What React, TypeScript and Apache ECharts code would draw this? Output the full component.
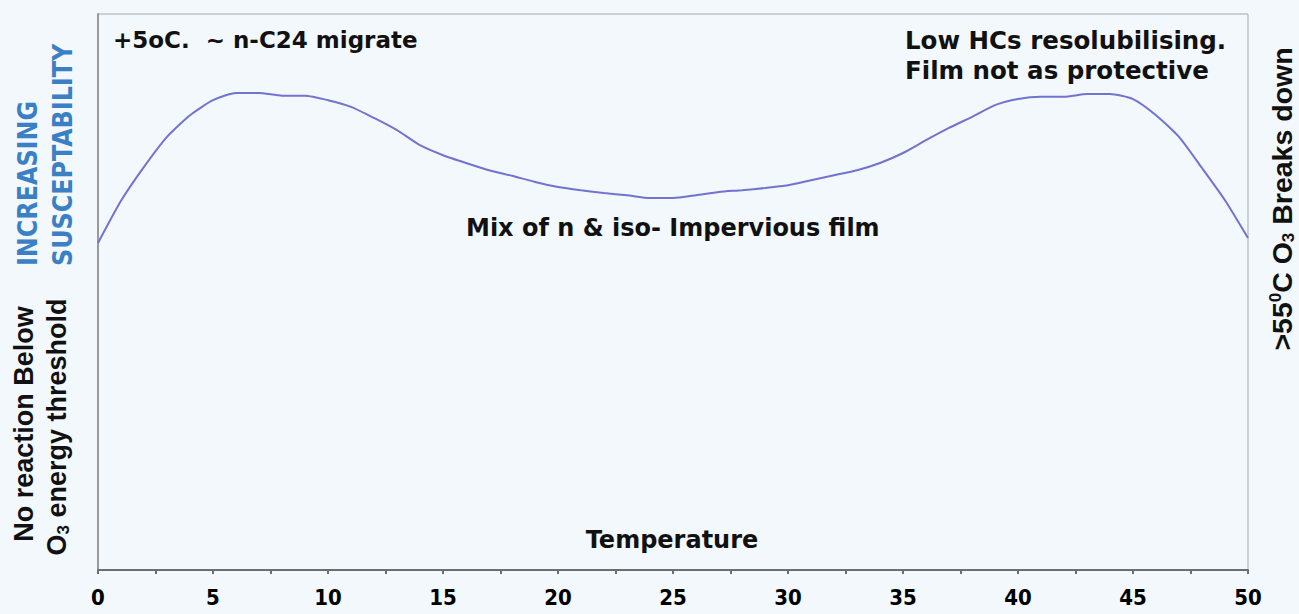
import React, { useEffect, useRef } from "react";
import * as echarts from "echarts";

const temperature = [
  0, 1, 2, 3, 4, 5, 6, 7, 8, 9, 10, 11, 12, 13, 14, 15, 16, 17, 18, 19, 20, 21, 22, 23, 24, 25,
  26, 27, 28, 29, 30, 31, 32, 33, 34, 35, 36, 37, 38, 39, 40, 41, 42, 43, 44, 45, 46, 47, 48, 49, 50,
];
const susceptibility = [
  58.8, 66.4, 72.5, 77.9, 81.8, 84.5, 85.8, 85.8, 85.3, 85.3, 84.5, 83.3, 81.3, 79.1, 76.4, 74.6,
  73.2, 71.9, 70.9, 69.8, 68.9, 68.3, 67.8, 67.4, 66.9, 66.9, 67.4, 68.0, 68.3, 68.7, 69.2, 70.1,
  71.0, 71.9, 73.2, 75.0, 77.3, 79.5, 81.5, 83.6, 84.7, 85.1, 85.1, 85.6, 85.6, 84.7, 81.8, 77.9,
  72.3, 66.5, 59.7,
];
const xTickLabels = ["0", "5", "10", "15", "20", "25", "30", "35", "40", "45", "50"];

const VERDANA = "'DejaVu Sans', Verdana, sans-serif";
const NARROW = "'Liberation Sans Narrow', 'DejaVu Sans Condensed', 'Arial Narrow', sans-serif";
const ARIAL = "'Liberation Sans', Arial, sans-serif";

export default function App() {
  const ref = useRef<HTMLDivElement>(null);

  useEffect(() => {
    document.body.style.margin = "0";
    const chart = echarts.init(ref.current!, undefined, { renderer: "svg" });
    const data = temperature.map((t, i) => [t, susceptibility[i]]);

    const plotText = (text: string, x: number, y: number, align = "left", size = 24) => ({
      type: "text",
      x,
      y,
      style: {
        text,
        align,
        verticalAlign: "middle",
        fontFamily: VERDANA,
        fontWeight: "bold",
        fontSize: size,
        fill: "#111",
      },
    });

    const richFor = (size: number) => ({
      a: { fontFamily: ARIAL, fontWeight: "bold", fontSize: size, lineHeight: 30, fill: "#111" },
      s: {
        fontFamily: ARIAL,
        fontWeight: "bold",
        fontSize: 17,
        lineHeight: 14,
        verticalAlign: "bottom",
        fill: "#111",
      },
      u: {
        fontFamily: ARIAL,
        fontWeight: "bold",
        fontSize: 17,
        lineHeight: 14,
        verticalAlign: "top",
        fill: "#111",
      },
    });

    const blueText = (text: string, x: number) => ({
      type: "text",
      x,
      y: 266,
      rotation: Math.PI / 2,
      style: {
        text,
        align: "left",
        verticalAlign: "middle",
        fontFamily: NARROW,
        fontWeight: "bold",
        fontSize: 26.5,
        fill: "#3b7fc4",
      },
    });

    chart.setOption({
      animation: false,
      backgroundColor: "#f3f8fc",
      grid: {
        left: 98,
        right: 51,
        top: 14,
        bottom: 44,
        show: true,
        borderColor: "#a8a8a8",
        borderWidth: 1,
        backgroundColor: "transparent",
      },
      xAxis: {
        type: "value",
        min: 0,
        max: 50,
        interval: 5,
        axisLine: { show: true, lineStyle: { color: "#6e6e6e", width: 2 } },
        axisTick: { show: true, length: 4, lineStyle: { color: "#6e6e6e", width: 2 } },
        minorTick: { show: true, splitNumber: 2, length: 4, lineStyle: { color: "#6e6e6e", width: 2 } },
        splitLine: { show: false },
        axisLabel: {
          margin: 16,
          fontFamily: NARROW,
          fontWeight: "bold",
          fontSize: 22,
          color: "#000",
          formatter: (v: number) => {
            const idx = xTickLabels.indexOf(String(v));
            return idx >= 0 ? xTickLabels[idx] : "";
          },
        },
      },
      yAxis: {
        type: "value",
        min: 0,
        max: 100,
        axisLine: { show: true, lineStyle: { color: "#9a9a9a", width: 2 } },
        axisTick: { show: false },
        axisLabel: { show: false },
        splitLine: { show: false },
      },
      series: [
        {
          type: "line",
          data,
          symbol: "none",
          smooth: 0.2,
          lineStyle: { color: "#7272cf", width: 2 },
        },
      ],
      graphic: [
        plotText("+5oC.  ~ n-C24 migrate", 113, 40, "left", 23),
        plotText("Low HCs resolubilising.", 905, 40, "left", 24.5),
        plotText("Film not as protective", 905, 70, "left", 24.5),
        plotText("Mix of n & iso- Impervious film", 466, 228),
        plotText("Temperature", 672, 540, "center"),
        blueText("INCREASING", 27),
        blueText("SUSCEPTABILITY", 62),
        {
          type: "text",
          x: 24,
          y: 424,
          rotation: Math.PI / 2,
          style: {
            text: "{a|No reaction Below}",
            rich: richFor(27),
            align: "center",
            verticalAlign: "middle",
          },
        },
        {
          type: "text",
          x: 57,
          y: 427,
          rotation: Math.PI / 2,
          style: {
            text: "{a|O}{s|3}{a| energy threshold}",
            rich: richFor(27),
            align: "center",
            verticalAlign: "middle",
          },
        },
        {
          type: "text",
          x: 1282,
          y: 199,
          rotation: Math.PI / 2,
          style: {
            text: "{a|>55}{u|0}{a|C O}{s|3}{a| Breaks down}",
            rich: richFor(28.5),
            align: "center",
            verticalAlign: "middle",
          },
        },
      ],
    });

    return () => chart.dispose();
  }, []);

  return <div ref={ref} style={{ width: 1299, height: 614 }} />;
}
